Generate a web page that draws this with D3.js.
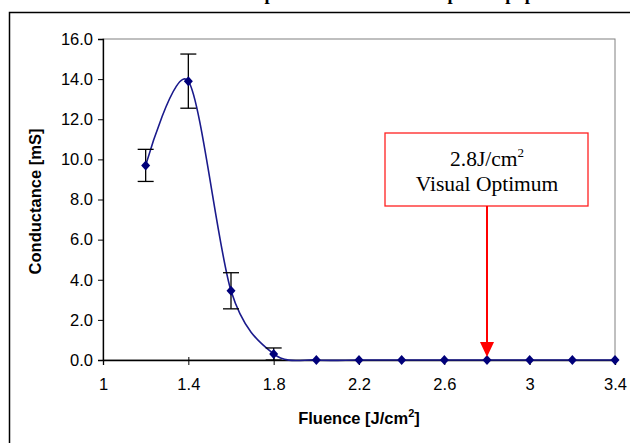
<!DOCTYPE html>
<html>
<head>
<meta charset="utf-8">
<script src="https://cdn.jsdelivr.net/npm/d3@7"></script>
<style>
  body { margin: 0; background: #fff; }
  #chart { width: 630px; height: 443px; }
  .sans { font-family: Arial, "Liberation Sans", sans-serif; }
  .serif { font-family: "Liberation Serif", "Times New Roman", serif; }
</style>
</head>
<body>
<div id="chart"></div>
<script>
// data
const fluence = [1.2, 1.4, 1.6, 1.8, 2.0, 2.2, 2.4, 2.6, 2.8, 3.0, 3.2, 3.4];
const conductance = [9.7, 13.9, 3.45, 0.3, 0, 0, 0, 0, 0, 0, 0, 0];
const errorBars = [0.8, 1.35, 0.9, 0.3, 0, 0, 0, 0, 0, 0, 0, 0];
const xTicks = [1, 1.4, 1.8, 2.2, 2.6, 3, 3.4];
const yTicks = [0, 2, 4, 6, 8, 10, 12, 14, 16];
const optimumFluence = 2.8;
const annotationLines = ["2.8J/cm", "Visual Optimum"];

const targetElement = d3.select('#chart');
targetElement.selectAll('svg').remove();

const svg = targetElement.append('svg')
  .attr('width', 630)
  .attr('height', 443);

// outer chart frame (runs off the right / bottom of the window)
svg.append('rect')
  .attr('x', 9.5).attr('y', 12.5)
  .attr('width', 640).attr('height', 460)
  .attr('fill', 'none')
  .attr('stroke', '#000')
  .attr('stroke-width', 1.5);

// clipped title, only descenders peek in at the top
svg.append('text')
  .attr('class', 'serif')
  .attr('x', 298)
  .attr('y', -0.5)
  .attr('text-anchor', 'middle')
  .attr('font-weight', 'bold')
  .attr('font-size', 18.5)
  .text('Conductance vs fluence of optimum silver ink stamped on paper');

const margin = { top: 39, left: 103 };
const width = 512;
const height = 321;

const g = svg.append('g').attr('transform', 'translate(' + margin.left + ',' + margin.top + ')');

const x = d3.scaleLinear().domain([1, 3.4]).range([0, width]);
const y = d3.scaleLinear().domain([0, 16]).range([height, 0]);

// plot area border
g.append('rect')
  .attr('x', 0).attr('y', 0)
  .attr('width', width).attr('height', height)
  .attr('fill', 'none')
  .attr('stroke', '#808080')
  .attr('stroke-width', 1);

// axes
const yAxis = g.append('g')
  .call(d3.axisLeft(y).tickValues(yTicks).tickSize(5).tickPadding(5).tickFormat(d3.format('.1f')));
const xAxis = g.append('g')
  .attr('transform', 'translate(0,' + height + ')')
  .call(d3.axisBottom(x).tickValues(xTicks).tickSize(5).tickPadding(13).tickFormat(d => String(d)));

[yAxis, xAxis].forEach(function(ax) {
  ax.attr('font-family', null);
  ax.select('.domain').attr('stroke', '#000').attr('stroke-width', 1.3);
  ax.selectAll('.tick line').attr('stroke', '#000');
  ax.selectAll('.tick text')
    .attr('class', 'sans')
    .attr('font-size', 16.5)
    .attr('fill', '#000');
});
xAxis.selectAll('.tick line').attr('y1', -3);

// axis titles
svg.append('text')
  .attr('class', 'sans')
  .attr('transform', 'translate(41,' + (margin.top + height / 2 + 2) + ') rotate(-90)')
  .attr('text-anchor', 'middle')
  .attr('font-weight', 'bold')
  .attr('font-size', 16.5)
  .text('Conductance [mS]');

const xTitle = svg.append('text')
  .attr('class', 'sans')
  .attr('x', margin.left + width / 2)
  .attr('y', 424)
  .attr('text-anchor', 'middle')
  .attr('font-weight', 'bold')
  .attr('font-size', 16.5);
xTitle.append('tspan').text('Fluence [J/cm');
xTitle.append('tspan').attr('font-size', 11).attr('dy', -7).text('2');
xTitle.append('tspan').attr('dy', 7).text(']');

// smoothed line through the points
const points = fluence.map((f, i) => ({ x: f, y: conductance[i], err: errorBars[i] }));
g.append('path')
  .datum(points)
  .attr('fill', 'none')
  .attr('stroke', '#1a1a8c')
  .attr('stroke-width', 1.6)
  .attr('d', d3.line().x(d => x(d.x)).y(d => y(d.y)).curve(d3.curveCardinal.tension(0.1)));

// error bars
const withErr = points.filter(d => d.err > 0);
const eb = g.append('g').attr('stroke', '#000').attr('stroke-width', 1.3);
eb.selectAll('line.v').data(withErr).enter().append('line')
  .attr('x1', d => x(d.x)).attr('x2', d => x(d.x))
  .attr('y1', d => y(d.y + d.err)).attr('y2', d => y(Math.max(0, d.y - d.err)));
eb.selectAll('line.t').data(withErr).enter().append('line')
  .attr('x1', d => x(d.x) - 8).attr('x2', d => x(d.x) + 8)
  .attr('y1', d => y(d.y + d.err)).attr('y2', d => y(d.y + d.err));
eb.selectAll('line.b').data(withErr).enter().append('line')
  .attr('x1', d => x(d.x) - 8).attr('x2', d => x(d.x) + 8)
  .attr('y1', d => y(Math.max(0, d.y - d.err))).attr('y2', d => y(Math.max(0, d.y - d.err)));

// diamond markers
g.selectAll('path.marker').data(points).enter().append('path')
  .attr('transform', d => 'translate(' + x(d.x) + ',' + y(d.y) + ')')
  .attr('d', 'M0,-5L4.5,0L0,5L-4.5,0Z')
  .attr('fill', '#00007a');

// annotation box + arrow
const ax0 = x(optimumFluence);
const boxW = 203, boxH = 73, boxTop = 94;
const ann = g.append('g');
ann.append('rect')
  .attr('x', ax0 - 102).attr('y', boxTop)
  .attr('width', boxW).attr('height', boxH)
  .attr('fill', '#fff')
  .attr('stroke', '#ff2020')
  .attr('stroke-width', 1.3);
ann.append('line')
  .attr('x1', ax0).attr('x2', ax0)
  .attr('y1', boxTop + boxH).attr('y2', y(0) - 16)
  .attr('stroke', '#ff0000').attr('stroke-width', 2);
ann.append('path')
  .attr('d', 'M' + (ax0 - 7) + ',' + (y(0) - 18) + 'L' + (ax0 + 7) + ',' + (y(0) - 18) + 'L' + ax0 + ',' + (y(0) - 3) + 'Z')
  .attr('fill', '#ff0000');

const t1 = ann.append('text')
  .attr('class', 'serif')
  .attr('x', ax0).attr('y', boxTop + 33)
  .attr('text-anchor', 'middle')
  .attr('font-size', 21.5)
  .attr('fill', '#000');
t1.append('tspan').text(annotationLines[0]);
t1.append('tspan').attr('font-size', 13).attr('dy', -9).text('2');
ann.append('text')
  .attr('class', 'serif')
  .attr('x', ax0).attr('y', boxTop + 58)
  .attr('text-anchor', 'middle')
  .attr('font-size', 21.5)
  .attr('fill', '#000')
  .text(annotationLines[1]);
</script>
</body>
</html>
